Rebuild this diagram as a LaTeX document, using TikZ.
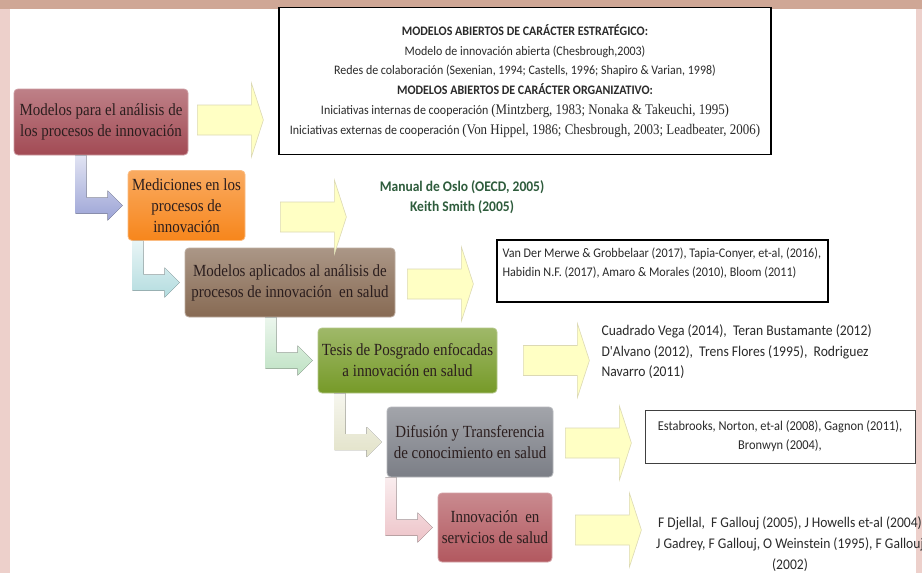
\documentclass[tikz,border=0pt]{standalone}
\usepackage{fontspec}
\setmainfont{Liberation Serif}[FakeStretch=0.88]
\newfontfamily\calfont{Carlito}[FakeStretch=0.92]
\usetikzlibrary{calc}

\definecolor{bgpink}{HTML}{EDD0CB}
\definecolor{bgtop}{HTML}{CFA796}
\definecolor{boxtext}{HTML}{2B1E1E}
\definecolor{maroonbox}{HTML}{A24A54}
\definecolor{orangebox}{HTML}{F7861C}
\definecolor{brownbox}{HTML}{876A53}
\definecolor{greenbox}{HTML}{769A28}
\definecolor{graybox}{HTML}{7B7E86}
\definecolor{rosebox}{HTML}{B2585F}
\definecolor{arrowfill}{HTML}{FFFFC4}
\definecolor{arrowline}{HTML}{DCD9B4}
\definecolor{oslogreen}{HTML}{2E5C3C}
\definecolor{reftext}{HTML}{2A2A2A}
\definecolor{bentblue}{HTML}{9CA4D6}
\definecolor{bentcyan}{HTML}{B3DCDF}
\definecolor{bentmint}{HTML}{BFE2C4}
\definecolor{bentbeige}{HTML}{E2E2C8}
\definecolor{bentpink}{HTML}{EDC3C8}

% bent arrow from the box above (#1) into the box below (#2)
\newcommand{\bentarrow}[3]{%
  \coordinate (tip) at ($(#2.west)+(-5,0)$);
  \fill[top color=#3!30!white, bottom color=#3]
    ($(tip |- #1.south)+(-47,0)$) -- ($(tip |- #1.south)+(-36,0)$)
    -- ($(tip)+(-36,-8)$) -- ($(tip)+(-15,-8)$) -- ($(tip)+(-15,-15)$)
    -- (tip) -- ($(tip)+(-15,15)$) -- ($(tip)+(-15,8)$)
    -- ($(tip)+(-47,8)$) -- cycle;}
% serif citations inside the top box
\newcommand{\cites}[1]{{\rmfamily\fontsize{14.7}{19.8}\selectfont #1}}

\begin{document}
\begin{tikzpicture}[x=1pt,y=-1pt,
  mbox/.style={rectangle, rounded corners=4pt, align=center, inner sep=2pt,
    text=boxtext, font=\fontsize{17}{21}\selectfont, draw=#1!55!white,
    line width=0.8pt, top color=#1!70!white, bottom color=#1},
  refbox/.style={rectangle, draw=black, line width=1.2pt, fill=white,
    align=center, text=reftext, inner sep=3pt},
  yarrow/.pic={\draw[fill=arrowfill, draw=arrowline, line width=0.6pt]
    (0,-15) -- (54,-15) -- (54,-37) -- (66,0) -- (54,37) -- (54,15)
    -- (0,15) -- cycle;}]
\useasboundingbox (0,0) rectangle (922,573);
\fill[bgpink] (0,0) rectangle (922,573);
\fill[bgtop] (0,0) rectangle (922,9);
\fill[white] (10,9) rectangle (916,573);

% top reference box
\node[refbox, minimum width=492pt, minimum height=147pt,
  font=\calfont\fontsize{13}{19.8}\selectfont] (top) at (525,81)
  {{\bfseries MODELOS ABIERTOS DE CARÁCTER ESTRATÉGICO:}\\
   Modelo de innovación abierta (Chesbrough,2003)\\
   Redes de colaboración (Sexenian, 1994; Castells, 1996; Shapiro \& Varian, 1998)\\
   {\bfseries MODELOS ABIERTOS DE CARÁCTER ORGANIZATIVO:}\\
   Iniciativas internas de cooperación \cites{(Mintzberg, 1983; Nonaka \& Takeuchi, 1995)}\\
   Iniciativas externas de cooperación \cites{(Von Hippel, 1986; Chesbrough, 2003; Leadbeater, 2006)}};

% coloured steps
\node[mbox=maroonbox, minimum width=174pt, minimum height=66pt] (m1) at (101,122)
  {Modelos para el análisis de\\los procesos de innovación};
\node[mbox=orangebox, minimum width=117pt, minimum height=70pt] (m2) at (186.5,205.5)
  {Mediciones en los\\procesos de\\innovación};
\node[mbox=brownbox, minimum width=210pt, minimum height=69pt] (m3) at (290,282.5)
  {Modelos aplicados al análisis de\\procesos de innovación \ en salud};
\node[mbox=greenbox, minimum width=179pt, minimum height=65pt] (m4) at (407.5,360.5)
  {Tesis de Posgrado enfocadas\\a innovación en salud};
\node[mbox=graybox, minimum width=166pt, minimum height=70pt] (m5) at (470,442)
  {Difusión y Transferencia\\de conocimiento en salud};
\node[mbox=rosebox, minimum width=114pt, minimum height=69pt] (m6) at (495,527.5)
  {Innovación \ en\\servicios de salud};

% references
\node[font=\calfont\bfseries\fontsize{14.7}{20}\selectfont, text=oslogreen, align=center]
  (oslo) at (462,197) {Manual de Oslo (OECD, 2005)\\Keith Smith (2005)};
\node[refbox, minimum width=331pt, minimum height=62pt] (salud) at (662.5,271) {};
\node[font=\calfont\fontsize{13.2}{19}\selectfont, text=reftext, align=left, anchor=west,
  inner sep=0pt] (saludtxt) at ($(salud.west)+(6,-8)$)
  {Van Der Merwe \& Grobbelaar (2017), Tapia-Conyer, et-al, (2016),\\
   Habidin N.F. (2017), Amaro \& Morales (2010), Bloom (2011)};
\node[font=\calfont\fontsize{14.8}{20.5}\selectfont, text=reftext, align=left, anchor=west]
  (tesis) at (598,352)
  {Cuadrado Vega (2014), \ Teran Bustamante (2012)\\
   D'Alvano (2012), \ Trens Flores (1995), \ Rodriguez\\
   Navarro (2011)};
\node[refbox, line width=0.8pt, draw=black!75, minimum width=270pt, minimum height=53pt,
  font=\calfont\fontsize{13.5}{19}\selectfont] (difus) at (780,436.5)
  {Estabrooks, Norton, et-al (2008), Gagnon (2011),\\Bronwyn (2004),};
\node[font=\calfont\fontsize{14.75}{21}\selectfont, text=reftext, align=center]
  (servi) at (790,544)
  {F Djellal, \ F Gallouj (2005), J Howells et-al (2004)\\
   J Gadrey, F Gallouj, O Weinstein (1995), F Gallouj\\(2002)};

% yellow arrows
\pic at ($(m1.east)+(9,-2)$) {yarrow};
\pic at ($(m2.east)+(35,11.5)$) {yarrow};
\pic at ($(m3.east)+(12,1.5)$) {yarrow};
\pic at ($(m4.east)+(26,0)$) {yarrow};
\pic at ($(m5.east)+(12,1)$) {yarrow};
\pic at ($(m6.east)+(23,2.5)$) {yarrow};

% bent arrows
\bentarrow{m1}{m2}{bentblue}
\bentarrow{m2}{m3}{bentcyan}
\bentarrow{m3}{m4}{bentmint}
\bentarrow{m4}{m5}{bentbeige}
\bentarrow{m5}{m6}{bentpink}
\end{tikzpicture}
\end{document}
